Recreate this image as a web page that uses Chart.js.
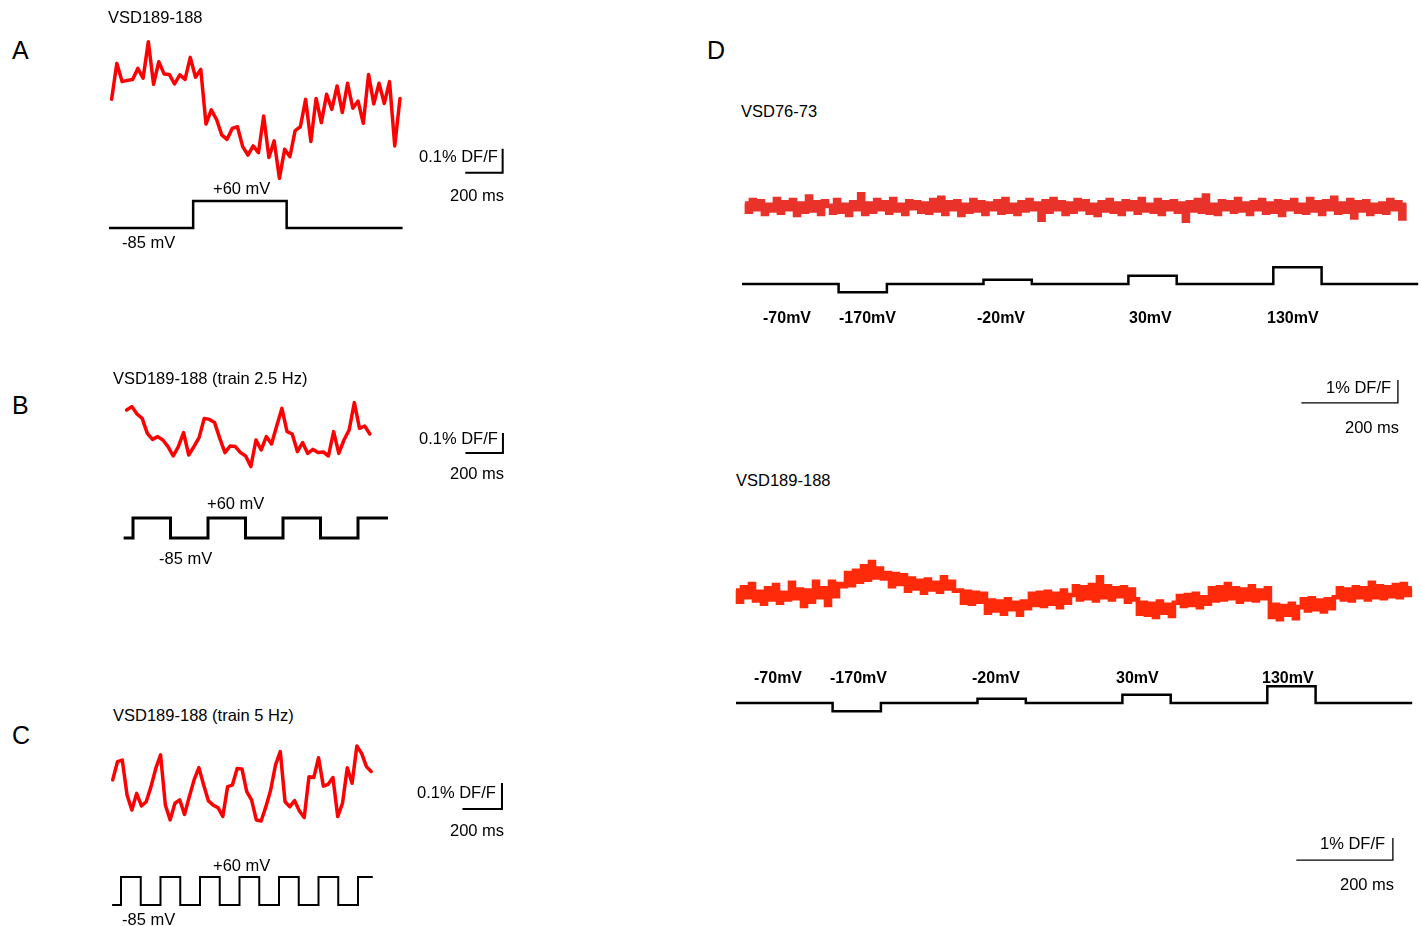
<!DOCTYPE html>
<html>
<head>
<meta charset="utf-8">
<script src="https://cdn.jsdelivr.net/npm/chart.js@4"></script>
<style>
  html, body { margin:0; padding:0; background:#ffffff; }
  body { width:1421px; height:926px; position:relative; overflow:hidden;
         font-family:"Liberation Sans", Arial, sans-serif; color:#000; }
  canvas { position:absolute; }
  .t { position:absolute; white-space:nowrap; line-height:1; transform:translateY(-50%); font-size:16.5px; z-index:2; }
  .big { font-size:25px; }
  .b { font-weight:bold; font-size:16px; }
</style>
</head>
<body>
<script>
// ===================== DATA =====================
// Panel A: VSD189-188, single 500 ms step, dF/F in %
const aDff = [0.336,0.486,0.410,0.415,0.419,0.465,0.424,0.576,0.399,0.493,0.442,0.440,0.400,0.438,0.419,0.511,
  0.428,0.461,0.233,0.292,0.253,0.188,0.169,0.215,0.222,0.139,0.104,0.142,0.114,0.267,0.094,0.163,0.007,0.128,
  0.097,0.206,0.222,0.336,0.160,0.340,0.239,0.357,0.294,0.392,0.281,0.403,0.299,0.329,0.236,0.440,0.317,0.403,
  0.319,0.410,0.142,0.340];
const aStartMs = 14, aDtMs = 28.04;
const aHoldMv = -85, aPulseMv = 60;
const aPulseStarts = [450], aPulseDur = 500, aRange = [0, 1570];

// Panel B: train 2.5 Hz
const bDff = [0.300,0.317,0.280,0.258,0.183,0.153,0.167,0.150,0.117,0.070,0.117,0.187,0.075,0.117,0.162,0.258,
  0.253,0.237,0.158,0.087,0.120,0.117,0.087,0.070,0.017,0.150,0.100,0.167,0.130,0.220,0.308,0.192,0.180,0.092,
  0.137,0.083,0.103,0.087,0.090,0.070,0.192,0.083,0.150,0.200,0.337,0.208,0.220,0.180];
const bStartMs = -34, bDtMs = 27.6;
const bHoldMv = -85, bPulseMv = 60;
const bPulseStarts = [0, 400, 800, 1200], bPulseDur = 200, bRange = [-50, 1360];

// Panel C: train 5 Hz
const cDff = [0.212,0.282,0.288,0.154,0.096,0.160,0.112,0.128,0.186,0.256,0.308,0.115,0.058,0.122,0.135,0.079,
  0.147,0.212,0.259,0.192,0.131,0.115,0.105,0.071,0.186,0.192,0.256,0.254,0.167,0.135,0.058,0.054,0.109,0.173,
  0.269,0.321,0.128,0.109,0.132,0.092,0.067,0.224,0.221,0.297,0.188,0.195,0.221,0.071,0.122,0.259,0.199,0.342,
  0.314,0.263,0.244];
const cStartMs = -42, cDtMs = 24.24;
const cHoldMv = -85, cPulseMv = 60;
const cPulseStarts = [0, 200, 400, 600, 800, 1000, 1200], cPulseDur = 100, cRange = [-45, 1275];

// Panel D: step protocol (-70 mV holding; steps to -170, -20, 30, 130 mV)
const dHoldMv = -70;
const dStepMv = [-170, -20, 30, 130];
const dStepStarts = [200, 500, 800, 1100], dStepDur = 100, dRange = [0, 1400];
const dStepLabels = ["-70mV", "-170mV", "-20mV", "30mV", "130mV"];

// Panel D top: VSD76-73, dF/F in % (deviation from mean)
const d1Dff = [0.15,-0.2,0.3,-0.1,0.25,-0.3,0.1,-0.15,0.35,-0.25,0.2,-0.1,0.3,-0.35,0.15,-0.2,
  0.45,-0.15,0.2,-0.3,0.25,0.05,-0.25,0.3,-0.2,0.1,-0.35,0.2,-0.1,0.55,-0.3,0.15,
  -0.2,0.3,-0.1,0.2,-0.25,0.35,-0.15,0.1,-0.3,0.25,-0.05,0.2,-0.2,0.15,-0.25,0.3,
  -0.15,0.4,-0.3,0.2,-0.1,0.25,-0.35,0.1,-0.2,0.3,-0.15,0.2,-0.3,0.15,-0.1,0.25,
  -0.25,0.35,-0.2,0.1,-0.3,0.2,-0.15,0.3,-0.1,0.15,-0.55,0.25,-0.2,0.35,-0.1,0.2,
  -0.3,0.15,-0.2,0.3,-0.1,0.25,-0.25,0.1,-0.35,0.2,-0.15,0.3,-0.2,0.15,-0.3,0.25,
  -0.1,0.2,-0.25,0.35,-0.15,0.1,-0.2,0.3,-0.3,0.2,-0.1,0.25,-0.2,0.15,-0.6,0.2,
  -0.15,0.3,-0.2,0.5,-0.25,0.1,-0.3,0.25,-0.1,0.2,-0.2,0.35,-0.15,0.15,-0.3,0.2,
  -0.1,0.3,-0.25,0.15,-0.2,0.25,-0.35,0.2,-0.1,0.3,-0.2,0.1,-0.25,0.35,-0.15,0.2,
  -0.3,0.25,-0.1,0.4,-0.25,0.15,-0.2,0.3,-0.45,0.2,-0.15,0.25,-0.3,0.1,-0.2,0.15,
  -0.25,0.3,-0.1,0.2,-0.5,0.1];
const d1StartMs = 6, d1DtMs = 8.3;

// Panel D bottom: VSD189-188, dF/F in %
const d2Dff = [0.2,-0.3,0.35,-0.1,0.5,-0.25,0.15,-0.4,0.3,-0.2,0.45,-0.35,0.1,-0.2,0.55,-0.15,0.25,-0.5,0.2,-0.3,0.6,-0.1,0.3,-0.45,
  0.6,-0.05,0.5,
  0.4,1.0,0.45,1.1,0.6,
  1.3,0.7,1.5,0.8,1.2,0.75,
  1.0,0.4,0.95,0.5,0.9,
  0.2,0.75,0.3,0.65,0.1,0.7,0.25,0.55,0.15,0.8,0.3,0.6,0.2,
  0.2,-0.35,0.15,-0.4,0.1,-0.3,0.05,
  -0.8,-0.25,-0.7,-0.3,-0.85,-0.2,-0.65,-0.35,-0.9,-0.3,-0.6,
  0.05,-0.45,0.1,-0.5,0.15,-0.4,0.05,-0.55,0.2,-0.35,0.0,
  0.4,-0.2,0.35,-0.15,0.45,-0.25,0.8,-0.1,0.4,-0.2,0.3,-0.05,0.35,-0.3,0.25,-0.2,
  -0.85,-0.35,-0.9,-0.4,-1.0,-0.3,-0.8,-0.45,-0.95,-0.35,
  -0.05,-0.5,0.0,-0.45,0.05,-0.55,-0.1,-0.4,
  0.3,-0.25,0.35,-0.2,0.5,-0.15,0.3,-0.3,0.25,-0.2,0.4,-0.25,0.2,-0.15,0.3,
  -1.0,-0.45,-1.1,-0.5,-0.9,-0.4,-1.05,-0.55,
  -0.2,-0.7,-0.15,-0.65,-0.25,-0.75,-0.2,-0.6,-0.1,
  0.3,-0.2,0.25,-0.25,0.35,-0.1,0.3,-0.2,0.55,-0.1,0.4,-0.15,0.35,-0.05,0.45,-0.1,0.5,0.0,0.3];
const d2StartMs = 0, d2DtMs = 8.28;

// Scale bars
const barMs = 200;
const barPctABC = 0.1, barPctD = 1;

// ===================== HELPERS =====================
function trace(vals, t0, dt) { return vals.map((v, i) => ({ x: t0 + i * dt, y: v })); }
function protocol(hold, levels, starts, dur, range) {
  const pts = [{ x: range[0], y: hold }];
  starts.forEach((s, i) => {
    const lv = Array.isArray(levels) ? levels[i] : levels;
    const e = Math.min(s + dur, range[1]);
    pts.push({ x: s, y: hold }, { x: s, y: lv }, { x: e, y: lv });
    if (s + dur < range[1]) pts.push({ x: e, y: hold });
  });
  const last = pts[pts.length - 1];
  pts.push({ x: range[1], y: last.y });
  return pts;
}
function scaleBar(tEnd, vBottom, ms, pct) {
  return [{ x: tEnd - ms, y: vBottom }, { x: tEnd, y: vBottom }, { x: tEnd, y: vBottom + pct }];
}
// axis range from pixel calibration (layout only)
function xr(box, px, val, k) { return [val + (box.l - px) / k, val + (box.r - px) / k]; }
function yr(box, px, val, k) { return [val - (box.b - px) / k, val + (px - box.t) / k]; }

function makePanel(box, xcal, ycal, mvcal, datasets) {
  const c = document.createElement('canvas');
  c.width = box.r - box.l; c.height = box.b - box.t;
  c.style.left = box.l + 'px'; c.style.top = box.t + 'px';
  document.body.appendChild(c);
  const X = xr(box, ...xcal), Y = yr(box, ...ycal), M = yr(box, ...mvcal);
  new Chart(c, {
    type: 'line',
    data: { datasets },
    options: {
      responsive: false, animation: false, events: [],
      layout: { padding: 0 },
      plugins: { legend: { display: false }, tooltip: { enabled: false } },
      elements: { point: { radius: 0 }, line: { tension: 0 } },
      scales: {
        x: { type: 'linear', display: false, min: X[0], max: X[1] },
        y: { type: 'linear', display: false, min: Y[0], max: Y[1] },
        mv: { type: 'linear', display: false, min: M[0], max: M[1] }
      }
    }
  });
}
function red(data, color, w) {
  return { data, yAxisID: 'y', borderColor: color, borderWidth: w, clip: false,
           borderJoinStyle: 'round', borderCapStyle: 'round', fill: false };
}
function noisy(data, color, w) {
  return { data, yAxisID: 'y', borderColor: color, borderWidth: w, clip: false, stepped: 'middle',
           borderJoinStyle: 'miter', borderCapStyle: 'butt', fill: false };
}
function blk(data, axis, w) {
  return { data, yAxisID: axis, borderColor: '#000', borderWidth: w, clip: false,
           borderJoinStyle: 'miter', borderCapStyle: 'butt', fill: false };
}

// ===================== CHARTS =====================
// A
makePanel({ l: 100, t: 20, r: 520, b: 260 }, [109, 0, 0.187], [180, 0, 240], [228, aHoldMv, 27 / 145], [
  red(trace(aDff, aStartMs, aDtMs), '#ff0000', 3.5),
  blk(protocol(aHoldMv, aPulseMv, aPulseStarts, aPulseDur, aRange), 'mv', 2.5),
  blk(scaleBar(2105, 0.03, barMs, barPctABC), 'y', 2)
]);
// B
makePanel({ l: 100, t: 380, r: 520, b: 580 }, [133, 0, 0.1875], [470, 0, 200], [538, bHoldMv, 20 / 145], [
  red(trace(bDff, bStartMs, bDtMs), '#ff0000', 3.5),
  blk(protocol(bHoldMv, bPulseMv, bPulseStarts, bPulseDur, bRange), 'mv', 3),
  blk(scaleBar(1973, 0.085, barMs, barPctABC), 'y', 2)
]);
// C
makePanel({ l: 100, t: 730, r: 520, b: 926 }, [121, 0, 0.1975], [835, 0, 260], [905, cHoldMv, 28 / 145], [
  red(trace(cDff, cStartMs, cDtMs), '#ff0000', 3.5),
  blk(protocol(cHoldMv, cPulseMv, cPulseStarts, cPulseDur, cRange), 'mv', 2),
  blk(scaleBar(1929, 0.1, barMs, barPctABC), 'y', 2)
]);
// D top
makePanel({ l: 730, t: 170, r: 1421, b: 420 }, [742, 0, 0.483], [207, 0, 23], [284, dHoldMv, 0.0833], [
  noisy(trace(d1Dff, d1StartMs, d1DtMs), '#e8322a', 4.6),
  blk(protocol(dHoldMv, dStepMv, dStepStarts, dStepDur, dRange), 'mv', 2.5),
  blk(scaleBar(1358, -8.52, barMs, barPctD), 'y', 1.3)
]);
// D bottom
makePanel({ l: 725, t: 540, r: 1421, b: 870 }, [736, 0, 0.483], [595, 0, 22], [703, dHoldMv, 0.0833], [
  noisy(trace(d2Dff, d2StartMs, d2DtMs), '#ff2a0a', 4.6),
  blk(protocol(dHoldMv, dStepMv, dStepStarts, dStepDur, dRange), 'mv', 2.5),
  blk(scaleBar(1360, -12.05, barMs, barPctD), 'y', 1.3)
]);

// ===================== TEXT =====================
function txt(s, x, y, cls) {
  const d = document.createElement('div');
  d.className = 't' + (cls ? ' ' + cls : '');
  d.textContent = s; d.style.left = x + 'px'; d.style.top = y + 'px';
  document.body.appendChild(d);
}
txt('A', 12, 50, 'big'); txt('B', 12, 405, 'big'); txt('C', 12, 735, 'big'); txt('D', 707, 50, 'big');
txt('VSD189-188', 108, 17);
txt('+' + aPulseMv + ' mV', 213, 188); txt(aHoldMv + ' mV', 122, 242);
txt('0.1% DF/F', 419, 156); txt(barMs + ' ms', 450, 195);
txt('VSD189-188 (train 2.5 Hz)', 113, 378);
txt('+' + bPulseMv + ' mV', 207, 503); txt(bHoldMv + ' mV', 159, 558);
txt('0.1% DF/F', 419, 438); txt(barMs + ' ms', 450, 473);
txt('VSD189-188 (train 5 Hz)', 113, 715);
txt('+' + cPulseMv + ' mV', 213, 865); txt(cHoldMv + ' mV', 122, 919);
txt('0.1% DF/F', 417, 792); txt(barMs + ' ms', 450, 830);
txt('VSD76-73', 741, 111);
[763, 839, 977, 1129, 1267].forEach((x, i) => txt(dStepLabels[i], x, 318, 'b'));
txt('1% DF/F', 1326, 387); txt(barMs + ' ms', 1345, 427);
txt('VSD189-188', 736, 480);
[754, 830, 972, 1116, 1262].forEach((x, i) => txt(dStepLabels[i], x, 678, 'b'));
txt('1% DF/F', 1320, 843); txt(barMs + ' ms', 1340, 884);
</script>
</body>
</html>
